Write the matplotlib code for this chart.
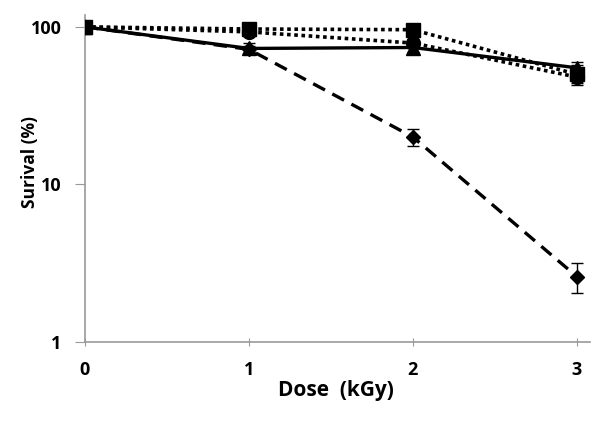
import matplotlib
matplotlib.use("Agg")
import matplotlib.pyplot as plt

dose = [0, 1, 2, 3]
dashed_diamond = [100, 72, 20, 2.6]
dashed_err = [0, 4, 2.5, 0.55]
solid_triangle = [100, 73, 74, 55]
solid_err = [0, 6, 5, 5]
dotted_square = [100, 97, 96, 50]
square_err = [0, 4, 6, 7]
dotted_circle = [100, 93, 79, 48]
circle_err = [0, 3, 4, 4]
xticks = [0, 1, 2, 3]
yticks = [1, 10, 100]
ytick_labels = ["1", "10", "100"]

plt.rcParams['font.family'] = ['Open Sans', 'DejaVu Sans']
fig = plt.figure(figsize=(6.01, 4.25), dpi=100)
ax = fig.add_axes([0.1414, 0.1953, 0.8403, 0.7694])

ax.errorbar(dose, dotted_circle, yerr=circle_err, color='black', ls=(0, (1, 1)), lw=2.6,
            marker='o', ms=10, capsize=4, elinewidth=1, zorder=3)
ax.errorbar(dose, dotted_square, yerr=square_err, color='black', ls=(0, (1, 1)), lw=2.6,
            marker='s', ms=10, capsize=4, elinewidth=1, zorder=3)
ax.errorbar(dose, solid_triangle, yerr=solid_err, color='black', ls='-', lw=2.4,
            marker='^', ms=10, capsize=4, elinewidth=1, zorder=4)
ax.errorbar(dose, dashed_diamond, yerr=dashed_err, color='black', ls=(0, (4, 2.5)), lw=2.4,
            marker='D', ms=7.5, capsize=4, elinewidth=1, zorder=4)

ax.set_yscale('log')
ax.set_ylim(1, 119)
ax.set_xlim(0, 3.08)
ax.set_xticks(xticks)
ax.set_xticklabels([str(t) for t in xticks])
ax.set_yticks(yticks)
ax.set_yticklabels(ytick_labels)
ax.minorticks_off()

for s in ['top', 'right']:
    ax.spines[s].set_visible(False)
for s in ['left', 'bottom']:
    ax.spines[s].set_color('#999999')
    ax.spines[s].set_linewidth(1.2)
ax.tick_params(axis='x', direction='inout', length=6, color='#999999', pad=11)
ax.tick_params(axis='y', direction='out', length=7, color='#999999', pad=10)
for lab in ax.get_xticklabels() + ax.get_yticklabels():
    lab.set_fontweight('bold')
    lab.set_fontsize(13)

ax.set_xlabel('Dose  (kGy)', fontsize=15, fontweight='bold')
ax.set_ylabel('Surival (%)', fontsize=12.5, fontweight='bold')
ax.xaxis.set_label_coords(0.497, -0.115)
ax.yaxis.set_label_coords(-0.092, 0.55)

fig.savefig('out.png', dpi=100)
